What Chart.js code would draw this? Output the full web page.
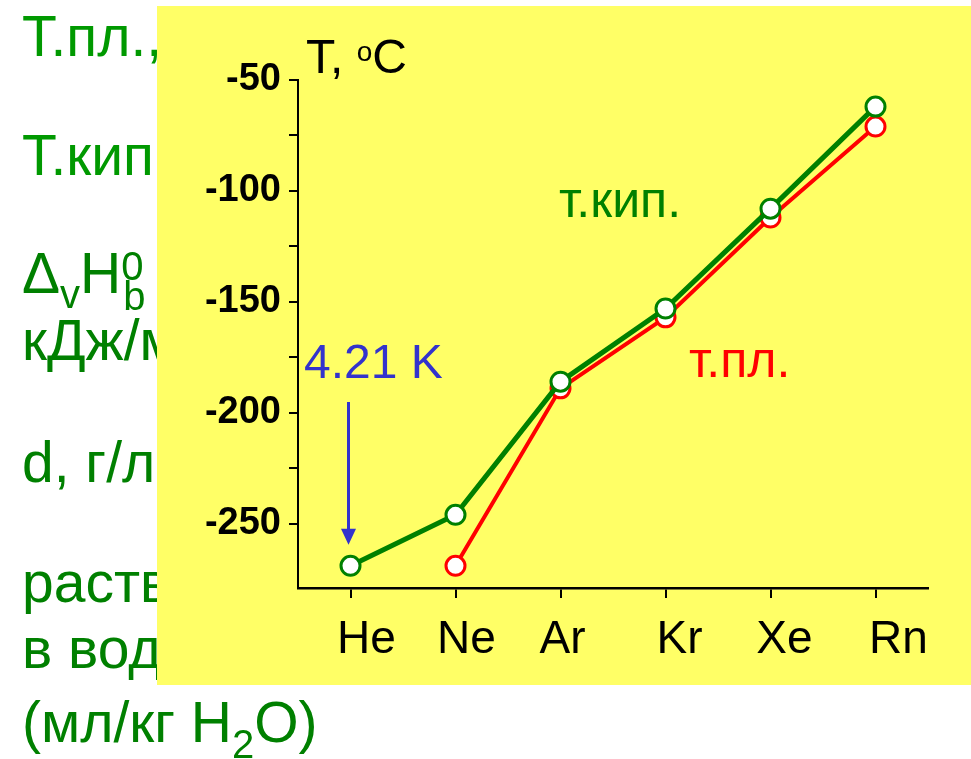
<!DOCTYPE html>
<html>
<head>
<meta charset="utf-8">
<script src="https://cdn.jsdelivr.net/npm/chart.js@4"></script>
<style>
  html, body { margin: 0; padding: 0; background: #fff; }
  canvas { display: block; }
</style>
</head>
<body>
<canvas id="tempChart" width="971" height="759"></canvas>
<script>
const elements = ['He', 'Ne', 'Ar', 'Kr', 'Xe', 'Rn'];
const boilingPoints = [-269, -246, -186, -153, -108, -62];   // т.кип.
const meltingPoints = [null, -269, -189, -157, -112, -71];   // т.пл. (как на рисунке)
const yTicks = [-250, -200, -150, -100, -50];
// подписи на слайде стоят не точно под рисками
const labelNudge = [16, 11, 2, 14, 14, 23];

const GREEN = '#008000';
const RED = '#ff0000';
const BLUE = '#3333cc';
const FONT = '"Liberation Sans", Arial, sans-serif';

// фон слайда: белый, зелёный текст слева и жёлтая вставка поверх
const slideBackground = {
    id: 'slideBackground',
    beforeDraw(chart) {
        const c = chart.ctx;
        c.save();
        c.fillStyle = '#fff';
        c.fillRect(0, 0, chart.width, chart.height);
        c.textBaseline = 'alphabetic';
        c.textAlign = 'left';

        const big = '57px ' + FONT;
        const small = '40px ' + FONT;
        c.fillStyle = '#009900';
        c.font = big;
        c.fillText('Т.пл., °С', 22, 56);
        c.fillText('Т.кип., °С', 22, 175);

        c.fillStyle = GREEN;
        // ΔvH0b,
        let x = 22;
        c.font = big;
        c.fillText('Δ', x, 293); x += c.measureText('Δ').width;
        c.font = small;
        c.fillText('v', x, 308); x += c.measureText('v').width;
        c.font = big;
        c.fillText('H', x, 293); x += c.measureText('H').width;
        c.font = small;
        c.fillText('0', x, 280);
        c.fillText('b', x + 2, 310);
        c.font = big;
        c.fillText('кДж/моль', 22, 360);
        c.fillText('d, г/л', 22, 482);
        c.fillText('растворимость', 22, 602);
        c.fillText('в воде', 22, 668);
        x = 22;
        c.fillText('(мл/кг H', x, 742); x += c.measureText('(мл/кг H').width;
        c.font = small;
        c.fillText('2', x, 758); x += c.measureText('2').width;
        c.font = big;
        c.fillText('O)', x, 742);

        c.fillStyle = '#ffff66';
        c.fillRect(157, 6, chart.width - 157, 679);
        c.restore();
    }
};

// подписи оси X, заголовок оси Y, надписи и стрелка
const annotations = {
    id: 'annotations',
    afterDraw(chart) {
        const c = chart.ctx;
        const xs = chart.scales.x;
        const ys = chart.scales.y;
        c.save();
        c.textBaseline = 'alphabetic';

        c.fillStyle = '#000';
        c.textAlign = 'center';
        c.font = '46px ' + FONT;
        chart.data.labels.forEach((lab, i) => {
            c.fillText(lab, xs.getPixelForValue(i) + labelNudge[i], xs.bottom - 26);
        });

        c.textAlign = 'left';
        let x = 306;
        c.font = '48px ' + FONT;
        c.fillText('T, ', x, 73); x += c.measureText('T, ').width;
        c.font = '28px ' + FONT;
        c.fillText('o', x, 61); x += c.measureText('o').width;
        c.font = '48px ' + FONT;
        c.fillText('C', x, 73);

        c.font = '50px ' + FONT;
        c.fillStyle = GREEN;
        c.fillText('т.кип.', 559, 217);
        c.fillStyle = RED;
        c.fillText('т.пл.', 689, 377);

        c.font = '48px ' + FONT;
        c.fillStyle = BLUE;
        c.fillText('4.21 K', 304, 378);

        const ax = xs.getPixelForValue(0) - 2;
        const tipY = ys.getPixelForValue(boilingPoints[0]) - 21;
        c.strokeStyle = BLUE;
        c.lineWidth = 3;
        c.beginPath();
        c.moveTo(ax, 402);
        c.lineTo(ax, tipY - 12);
        c.stroke();
        c.beginPath();
        c.moveTo(ax - 7.5, tipY - 16);
        c.lineTo(ax + 7.5, tipY - 16);
        c.lineTo(ax, tipY);
        c.closePath();
        c.fill();
        c.restore();
    }
};

new Chart(document.getElementById('tempChart'), {
    type: 'line',
    data: {
        labels: elements,
        datasets: [
            {
                label: 'т.пл.',
                data: meltingPoints,
                borderColor: RED,
                borderWidth: 4,
                pointRadius: 9.5,
                pointBorderWidth: 3,
                pointBackgroundColor: '#fff',
                pointBorderColor: RED,
                clip: false,
                order: 2
            },
            {
                label: 'т.кип.',
                data: boilingPoints,
                borderColor: GREEN,
                borderWidth: 5,
                pointRadius: 9.5,
                pointBorderWidth: 3,
                pointBackgroundColor: '#fff',
                pointBorderColor: GREEN,
                clip: false,
                order: 1
            }
        ]
    },
    options: {
        responsive: false,
        devicePixelRatio: 1,
        animation: false,
        layout: { padding: { left: 157, right: 43, top: 80, bottom: 80 } },
        plugins: {
            legend: { display: false },
            tooltip: { enabled: false }
        },
        scales: {
            x: {
                offset: true,
                border: { display: true, color: '#000', width: 2.5 },
                grid: { drawOnChartArea: false, drawTicks: true, tickLength: 10, color: '#000', lineWidth: 2 },
                ticks: { display: false },
                afterFit(scale) { scale.height = 91; }
            },
            y: {
                min: -279,
                max: -50,
                border: { display: true, color: '#000', width: 2 },
                grid: { drawOnChartArea: false, drawTicks: true, tickLength: 9, color: '#000', lineWidth: 2 },
                ticks: {
                    stepSize: 25,
                    color: '#000',
                    padding: 8,
                    font: { family: FONT, size: 38, weight: 'bold' },
                    callback: (v) => yTicks.includes(v) ? String(v) : ''
                },
                afterBuildTicks(scale) {
                    scale.ticks = scale.ticks.filter(t => t.value % 25 === 0);
                },
                afterFit(scale) { scale.width = 141; }
            }
        }
    },
    plugins: [slideBackground, annotations]
});
</script>
</body>
</html>
